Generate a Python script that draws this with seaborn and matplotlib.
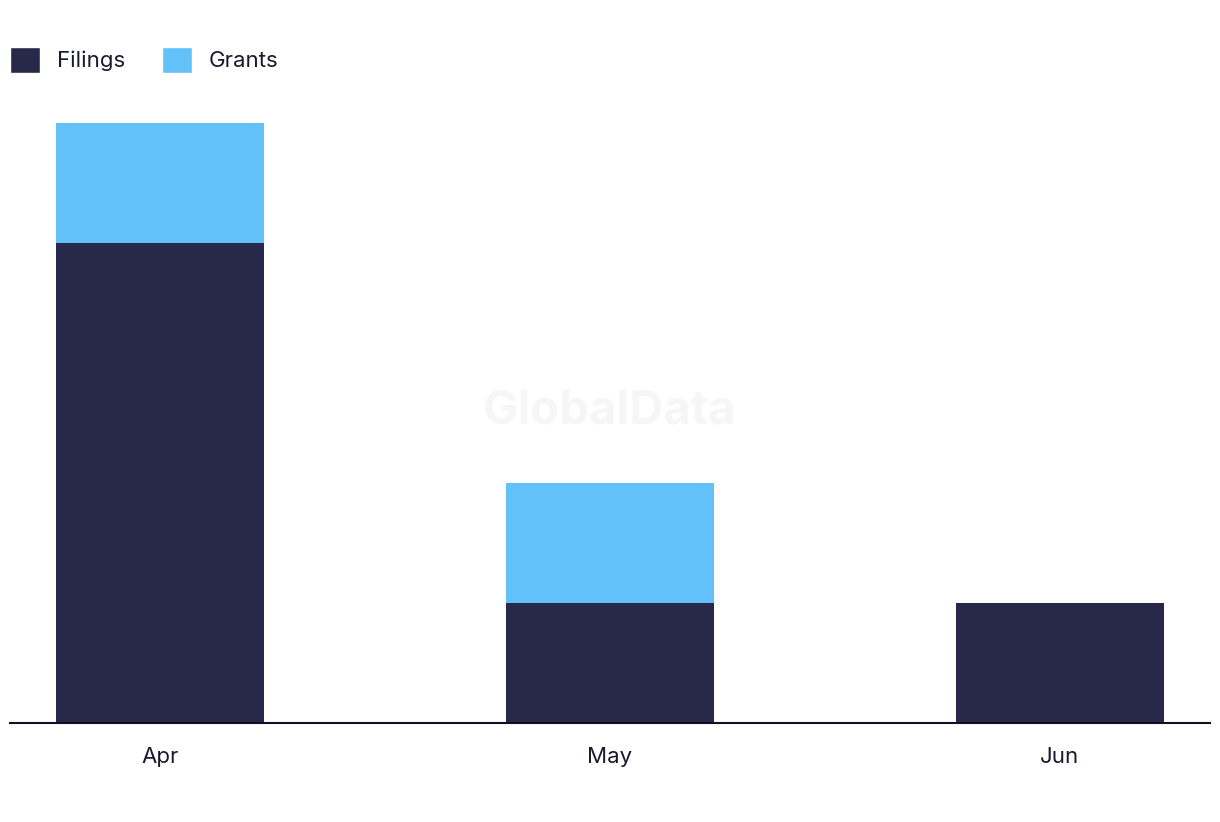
import matplotlib
matplotlib.use("Agg")
import matplotlib.pyplot as plt
import seaborn as sns
import pandas as pd
from matplotlib.patches import Patch

months = ["Apr", "May", "Jun"]
filings = [4, 1, 1]
grants = [1, 1, 0]

dark = "#27284a"
light = "#62c1f8"

sns.set_theme(style="white")
plt.rcParams["font.family"] = ["Inter", "DejaVu Sans"]

df = pd.DataFrame({"month": months, "Filings": filings, "Grants": grants})
df["total"] = df["Filings"] + df["Grants"]

fig = plt.figure(figsize=(12.2, 8.22), dpi=100)
ax = fig.add_axes([10 / 1220, (822 - 723) / 822, 1200 / 1220, 623 / 822])

sns.barplot(data=df, x="month", y="total", color=light, width=0.462,
            saturation=1, ax=ax, edgecolor="none")
sns.barplot(data=df, x="month", y="Filings", color=dark, width=0.462,
            saturation=1, ax=ax, edgecolor="none")

ax.set_xlim(-1 / 3, 2 + 1 / 3)
ax.set_ylim(0, 5.19)
ax.set_xlabel("")
ax.set_ylabel("")
ax.set_yticks([])
for s in ["top", "right", "left"]:
    ax.spines[s].set_visible(False)
ax.spines["bottom"].set_color("#111122")
ax.spines["bottom"].set_linewidth(1.5)
ax.tick_params(axis="x", length=0, pad=17, labelsize=16, labelcolor="#1a1a2e")

fig.text(0.5, 0.5, "GlobalData", ha="center", va="center", fontsize=34,
         fontweight="bold", color="#f6f6f6", zorder=0)

handles = [Patch(facecolor=dark, label="Filings"), Patch(facecolor=light, label="Grants")]
fig.legend(handles=handles, loc="center left", bbox_to_anchor=(10 / 1220, 1 - 60 / 822),
           ncol=2, frameon=False, fontsize=16, handlelength=1.36, handleheight=1.36,
           columnspacing=1.65, handletextpad=0.75, borderpad=0, borderaxespad=0,
           labelcolor="#1a1a2e")

fig.savefig("out.png", dpi=100)
